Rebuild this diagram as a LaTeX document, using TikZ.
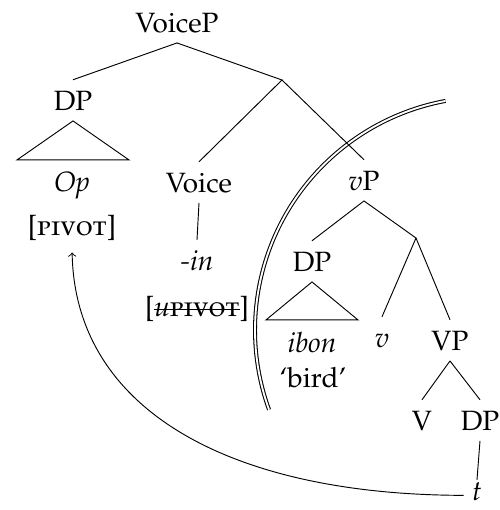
\documentclass[tikz,border=0pt,12pt]{standalone}
\usepackage[T1]{fontenc}
\usepackage[sc]{mathpazo}
\usepackage{tikz}
\newcommand\strk[1]{\setbox0\hbox{#1}\rlap{\rule[0.48ex]{\wd0}{0.4pt}}\box0}

\begin{document}
\begin{tikzpicture}[x=0.43pt, y=-0.43pt, every node/.style={anchor=base, inner xsep=2pt, inner ysep=4.5pt, text height=8.3pt, text depth=0pt} ]
        \useasboundingbox (0,0) rectangle (500,510);
        \draw[double, line width=0.45pt, double distance=0.8pt] (488,330) ++(259.5:233) arc[start angle=259.5, end angle=160, radius=233];
        \node (voicep) at (177,32) {VoiceP};
        \node (dpa) at (73,110) {DP};
        \node (op) at (72,191) {\textit{Op}};
        \node (pivot) at (72,235) {[\textsc{pivot}]};
        \node (voice) at (199,192) {Voice};
        \node (suffix) at (197,270) {\textit{-in}};
        \node (upivot) at (197,316) {[\strk{\textit{u}\textsc{pivot}}]};
        \node (vp) at (364,190) {\textit{v}P};
        \node (dpb) at (312,271) {DP};
        \node (ibon) at (312,352) {\textit{ibon}};
        \node (bird) at (313,387) {`bird'};
        \node (v) at (382,347) {\textit{v}};
        \node (vpp) at (450,350) {VP};
        \node (verb) at (422,430) {V};
        \node (dpc) at (480,430) {DP};
        \node[text height=4pt, inner xsep=3.5pt] (trace) at (477,500) {\textit{t}};
        \coordinate (vbar) at (282,80);
        \coordinate (vbarb) at (416,238);
        \draw (voicep.south)--(dpa.north);
        \draw (voicep.south)--(vbar)--(voice.north);
        \draw (vbar)--(vp.north);
        \draw (dpa.south) -- ++(-56,39) -- ++(112,0) -- cycle;
        \draw (voice.south)--(suffix.north);
        \draw (vp.south)--(dpb.north);
        \draw (vp.south)--(vbarb)--(v.north);
        \draw (vbarb)--(vpp.north);
        \draw (dpb.south) -- ++(-46,38) -- ++(92,0) -- cycle;
        \draw (vpp.south)--(verb.north);
        \draw (vpp.south)--(dpc.north);
        \draw (dpc.south)--(trace.north);
        \draw[->, shorten >=2.8pt] (trace.west) .. controls (230,495) and (75,410) .. (pivot.south);
    \end{tikzpicture}
\end{document}
